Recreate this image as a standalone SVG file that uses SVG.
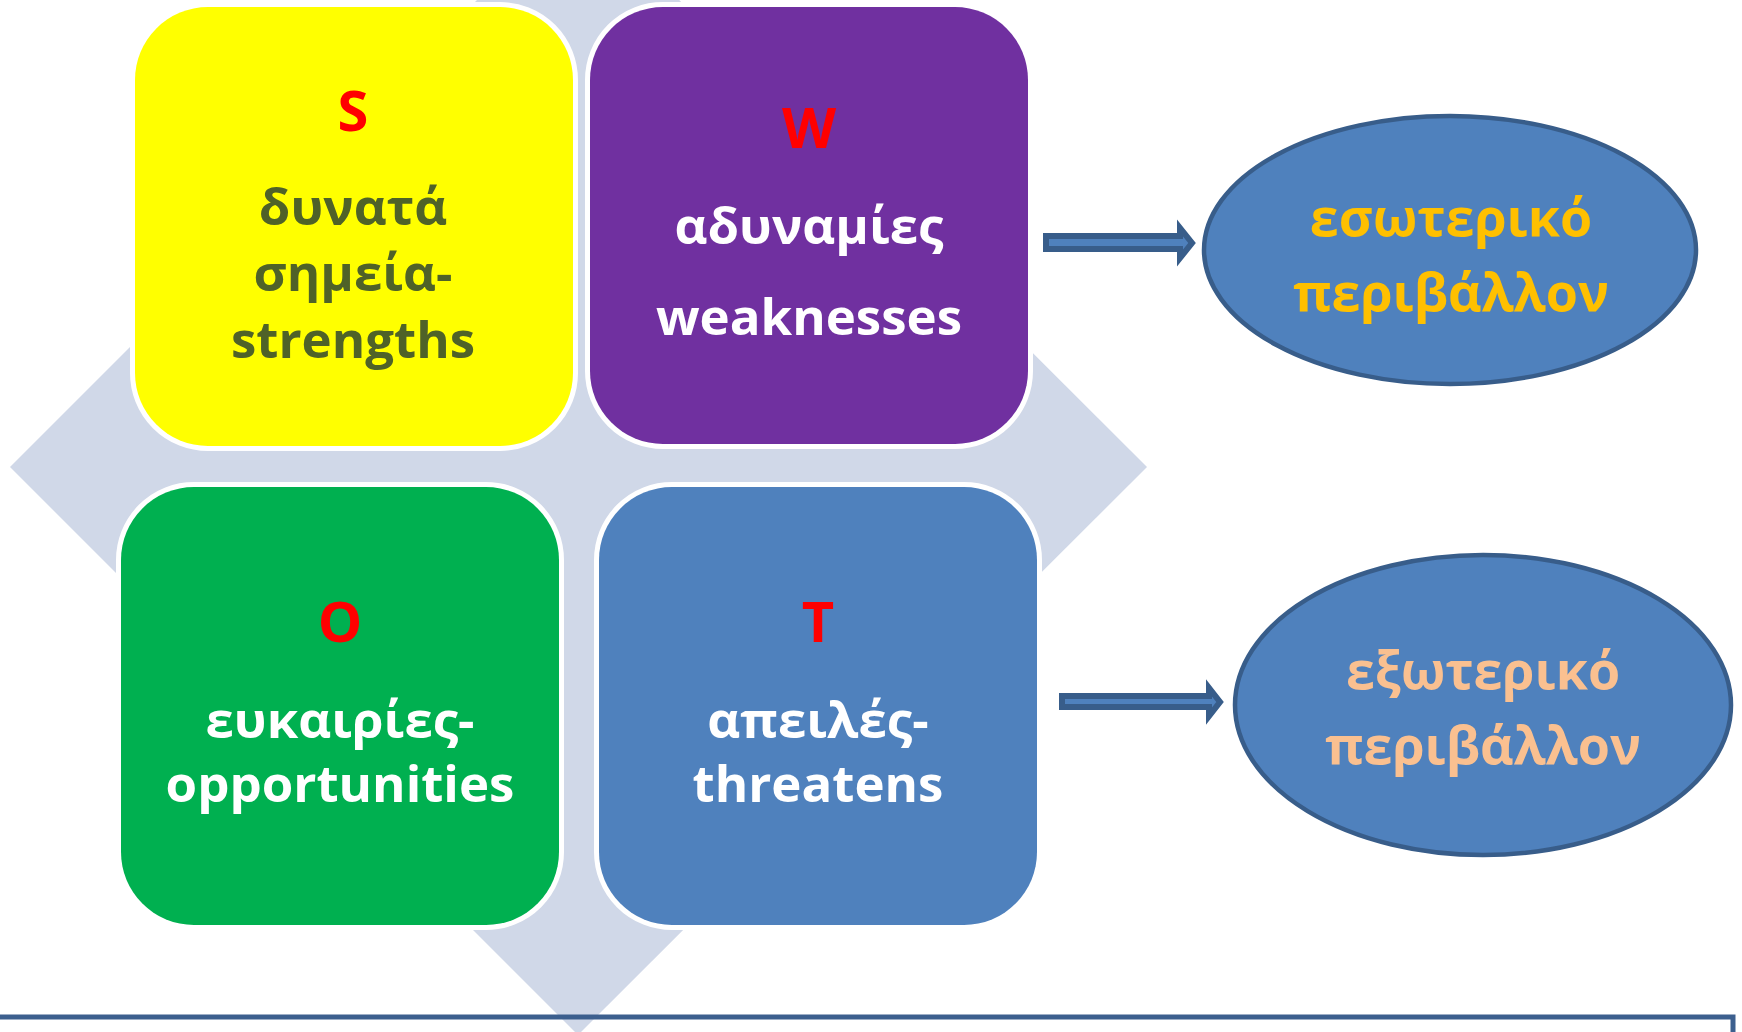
<svg xmlns="http://www.w3.org/2000/svg" width="1742" height="1032" viewBox="0 0 1742 1032">
<style>
.box{stroke:#fff;stroke-width:10;paint-order:stroke}
.t{font-family:"Open Sans","Noto Sans","DejaVu Sans",sans-serif;font-weight:bold;font-size:51px;text-anchor:middle}
.big{font-size:56px}
.e{font-size:52px}
.red{fill:#ff0000}
.w{fill:#fff}
.ol{fill:#4f6228}
.arr{fill:#4f81bd;stroke:#385d8a;stroke-width:6;stroke-linejoin:miter}
.ell{fill:#4f81bd;stroke:#385d8a;stroke-width:4.5}
</style>
<rect width="1742" height="1032" fill="#fff"/>
<g id="background">
<polygon points="578,-101 1147,467 578,1035 10,467" fill="#d0d8e8"/>
</g>
<g id="node-S">
<rect class="box" x="135" y="7" width="438" height="439" rx="73" fill="#ffff00"/>
<text class="t big red" x="353" y="131">S</text>
<text class="t ol" x="353" y="225">δυνατά</text>
<text class="t ol" x="353" y="291">σημεία-</text>
<text class="t ol" x="353" y="358">strengths</text>
</g>
<g id="node-W">
<rect class="box" x="590" y="7" width="438" height="437" rx="73" fill="#7030a0"/>
<text class="t big red" x="809" y="148">W</text>
<text class="t w" x="809" y="244">αδυναμίες</text>
<text class="t w" x="809" y="335">weaknesses</text>
</g>
<g id="node-O">
<rect class="box" x="121" y="487" width="438" height="438" rx="73" fill="#00b050"/>
<text class="t big red" x="340" y="642">O</text>
<text class="t w" x="340" y="738">ευκαιρίες-</text>
<text class="t w" x="340" y="802">opportunities</text>
</g>
<g id="node-T">
<rect class="box" x="599" y="487" width="438" height="438" rx="73" fill="#4f81bd"/>
<text class="t big red" x="818" y="642">T</text>
<text class="t w" x="818" y="738">απειλές-</text>
<text class="t w" x="818" y="802">threatens</text>
</g>
<g id="node-internal">
<ellipse class="ell" cx="1450" cy="250" rx="246" ry="134"/>
<text class="t e" x="1451" y="236" fill="#ffc000">εσωτερικό</text>
<text class="t e" x="1451" y="311" fill="#ffc000">περιβάλλον</text>
</g>
<g id="node-external">
<ellipse class="ell" cx="1483" cy="705" rx="248" ry="150"/>
<text class="t e" x="1483" y="689" fill="#fac090">εξωτερικό</text>
<text class="t e" x="1483" y="764" fill="#fac090">περιβάλλον</text>
</g>
<g id="connectors">
<path class="arr" d="M1046,236 L1180,236 L1180,228 L1192,243 L1180,258 L1180,249 L1046,249 Z"/>
<path class="arr" d="M1062,696 L1209,696 L1209,688 L1220,702 L1209,716 L1209,707 L1062,707 Z"/>
<path d="M0,1017 H1733 V1032" fill="none" stroke="#3c5f8e" stroke-width="5"/>
</g>
</svg>
